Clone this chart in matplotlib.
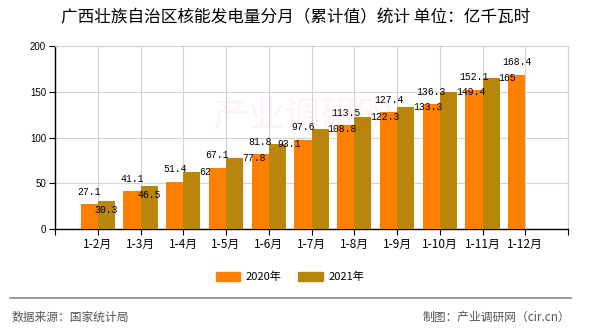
import matplotlib
matplotlib.use("Agg")
import matplotlib.pyplot as plt
from matplotlib.patches import Patch

plt.rcParams["font.family"] = ["Noto Sans CJK SC", "DejaVu Sans"]

months = ["1-2月", "1-3月", "1-4月", "1-5月", "1-6月", "1-7月",
          "1-8月", "1-9月", "1-10月", "1-11月", "1-12月"]
vals_2020 = [27.1, 41.1, 51.4, 67.1, 81.8, 97.6, 113.5, 127.4, 136.3, 152.1, 168.4]
vals_2021 = [30.3, 46.5, 62, 77.8, 93.1, 108.8, 122.3, 133.3, 149.4, 165]
y_ticks = [0, 50, 100, 150, 200]

c2020 = "#FF8000"
c2021 = "#B8860B"
bar_w = 0.4
px = 0.72  # one pixel in points at dpi 100

# where the 2021 value labels sit: (dx px, dy px, ha)
lab21_pos = [(0, -9, "center"), (0, -8.5, "center"), (7.5, 0, "left"),
             (7.5, 0, "left"), (0, 0, "left"), (7.5, 0, "left"),
             (7.5, 0, "left"), (7.5, 0, "left"), (7.5, 0, "left"),
             (7.5, 0, "left")]

fig = plt.figure(figsize=(5.9, 3.3), dpi=100)
ax = fig.add_axes([55 / 590, 1 - 229 / 330, 513 / 590, 183 / 330])

x20 = [i - bar_w / 2 for i in range(len(vals_2020))]
x21 = [i + bar_w / 2 for i in range(len(vals_2021))]
ax.bar(x20, vals_2020, width=bar_w, color=c2020, zorder=3)
ax.bar(x21, vals_2021, width=bar_w, color=c2021, zorder=3)

lab_font = dict(family="Liberation Mono", size=7, color="black")
for x, v in zip(x20, vals_2020):
    ax.annotate(f"{v:g}", (x, v), xytext=(0, 12.5 * px), textcoords="offset points",
                ha="center", va="center", zorder=5, **lab_font)
for x, v, (dx, dy, ha) in zip(x21, vals_2021, lab21_pos):
    ax.annotate(f"{v:g}", (x, v), xytext=(dx * px, dy * px), textcoords="offset points",
                ha=ha, va="center", zorder=5, **lab_font)

ax.set_xlim(-1, 11)
ax.set_ylim(0, 200)
ax.set_yticks(y_ticks)
ax.set_yticklabels([str(t) for t in y_ticks], family="Liberation Sans", fontsize=7)
ax.set_xticks(range(-1, 12))
ax.set_xticklabels([""] + months + [""], fontsize=8.5)
ax.tick_params(axis="both", length=4.5, width=0.8, color="black", pad=2)

ax.grid(True, color="#d3d3d3", linewidth=0.8, zorder=0)
ax.set_axisbelow(True)
for side in ["top", "right"]:
    ax.spines[side].set_color("#d3d3d3")
for side in ["left", "bottom"]:
    ax.spines[side].set_color("black")
    ax.spines[side].set_linewidth(1.0)

# faint watermark
fig.text(0.36, 0.645, "产业调研网", fontsize=26, color="#e02020", alpha=0.05,
         ha="left", va="center")

fig.text(296 / 590, 1 - 18 / 330, "广西壮族自治区核能发电量分月（累计值）统计 单位：亿千瓦时",
         ha="center", va="center", fontsize=12)

handles = [Patch(color=c2020, label="2020年"), Patch(color=c2021, label="2021年")]
fig.legend(handles=handles, loc="center", bbox_to_anchor=(290 / 590, 1 - 277 / 330),
           ncol=2, frameon=False, fontsize=8, handlelength=2.2, handleheight=0.8,
           columnspacing=1.5, handletextpad=0.5)

fig.add_artist(plt.Line2D([10 / 590, 571 / 590], [1 - 298 / 330] * 2,
                          transform=fig.transFigure, color="#888888", linewidth=1.2))
fig.text(12 / 590, 1 - 317 / 330, "数据来源：国家统计局", ha="left", va="center",
         fontsize=8.5, color="#555555")
fig.text(570 / 590, 1 - 317 / 330, "制图：产业调研网（cir.cn）", ha="right", va="center",
         fontsize=8.5, color="#555555")

fig.savefig("out.png", dpi=100)
